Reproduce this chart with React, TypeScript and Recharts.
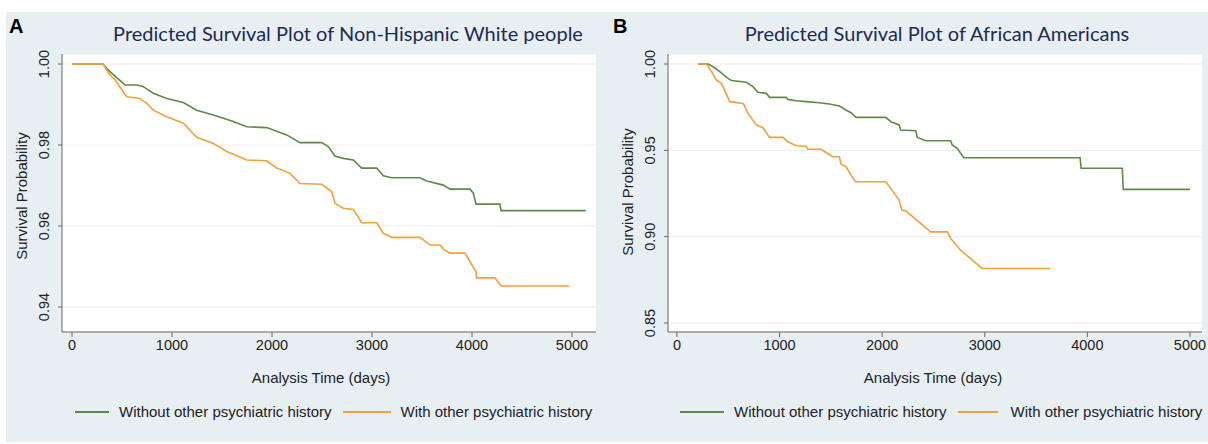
import { LineChart, Line, XAxis, YAxis, CartesianGrid } from 'recharts'

// Non-Hispanic White people (panel A)
const whiteWithoutT = [0, 310, 380, 513, 530, 650, 713, 813, 947, 1113, 1247, 1413, 1613, 1747, 1947, 2147, 2280, 2497, 2563, 2630, 2713, 2813, 2897, 3047, 3113, 3197, 3480, 3547, 3713, 3780, 3980, 4013, 4040, 4280, 4290, 5137]
const whiteWithoutS = [1.0, 1.0, 0.9981, 0.9952, 0.9948, 0.9948, 0.9944, 0.9928, 0.9915, 0.9905, 0.9886, 0.9874, 0.9858, 0.9845, 0.9843, 0.9825, 0.9806, 0.9806, 0.9796, 0.9773, 0.9767, 0.9763, 0.9743, 0.9743, 0.9724, 0.9719, 0.9719, 0.9711, 0.9701, 0.9691, 0.9691, 0.9681, 0.9654, 0.9654, 0.9638, 0.9638]
const whiteWithT = [0, 310, 380, 430, 547, 680, 747, 813, 947, 1113, 1247, 1413, 1547, 1747, 1947, 2047, 2180, 2280, 2497, 2597, 2630, 2713, 2813, 2897, 3047, 3113, 3197, 3480, 3580, 3680, 3713, 3780, 3930, 4040, 4045, 4230, 4290, 4973]
const whiteWithS = [1.0, 1.0, 0.9973, 0.9961, 0.9919, 0.9915, 0.9903, 0.9886, 0.987, 0.9854, 0.9819, 0.9804, 0.9784, 0.9763, 0.9761, 0.9743, 0.973, 0.9705, 0.9703, 0.9685, 0.9656, 0.9644, 0.9641, 0.9608, 0.9608, 0.9582, 0.9572, 0.9572, 0.9553, 0.9553, 0.9543, 0.9533, 0.9533, 0.9487, 0.9472, 0.9472, 0.9452, 0.9452]

// African Americans (panel B)
const blackWithoutT = [207, 304, 353, 417, 498, 531, 676, 741, 789, 871, 903, 1065, 1081, 1162, 1259, 1388, 1485, 1583, 1647, 1696, 1745, 2036, 2085, 2165, 2181, 2327, 2343, 2424, 2667, 2683, 2731, 2796, 3929, 3939, 4340, 4350, 5000]
const blackWithoutS = [1.0, 1.0, 0.9984, 0.9956, 0.9917, 0.9904, 0.9894, 0.9869, 0.9836, 0.983, 0.9807, 0.9807, 0.9795, 0.9787, 0.9782, 0.9776, 0.9768, 0.9757, 0.9734, 0.9718, 0.9691, 0.9691, 0.9666, 0.9647, 0.9618, 0.9614, 0.9575, 0.9556, 0.9556, 0.9531, 0.9512, 0.9457, 0.9457, 0.9396, 0.9396, 0.9274, 0.9274]
const blackWithT = [207, 288, 337, 385, 434, 515, 644, 660, 692, 774, 838, 903, 1032, 1081, 1162, 1259, 1275, 1405, 1518, 1583, 1599, 1647, 1738, 2036, 2165, 2191, 2230, 2473, 2634, 2667, 2764, 2974, 3638]
const blackWithS = [1.0, 1.0, 0.9956, 0.9907, 0.9888, 0.9782, 0.9772, 0.9757, 0.9714, 0.9647, 0.9631, 0.9575, 0.9575, 0.955, 0.9527, 0.9524, 0.9506, 0.9506, 0.9463, 0.9463, 0.9421, 0.9405, 0.9318, 0.9318, 0.9212, 0.9154, 0.915, 0.9028, 0.9028, 0.899, 0.8922, 0.8816, 0.8816]

const xTicks = [0, 1000, 2000, 3000, 4000, 5000]
const whiteYTicks = [0.94, 0.96, 0.98, 1.0]
const blackYTicks = [0.85, 0.9, 0.95, 1.0]

const seriesNames = ['Without other psychiatric history', 'With other psychiatric history']

const GREEN = '#62874a'
const ORANGE = '#f2a03c'
const BG = '#e8eff3'
const FONT = '"Liberation Sans", Arial, Helvetica, sans-serif'

const zip = (t: number[], s: number[]) => t.map((v, i) => ({ t: v, s: s[i] }))

function YTick(props: any) {
  const { x, y, payload } = props
  const cx = x - 12
  return (
    <text
      x={cx}
      y={y}
      transform={`rotate(-90 ${cx} ${y})`}
      textAnchor="middle"
      dominantBaseline="central"
      fontSize={14.5}
      fontFamily={FONT}
      fill="#222"
    >
      {Number(payload.value).toFixed(2)}
    </text>
  )
}

function Panel(props: {
  left: number
  width: number
  yAxisWidth: number
  xDomain: number[]
  yDomain: number[]
  yTicks: number[]
  without: { t: number; s: number }[]
  withH: { t: number; s: number }[]
}) {
  const { left, width, yAxisWidth, xDomain, yDomain, yTicks, without, withH } = props
  return (
    <div style={{ position: 'absolute', left, top: 0 }}>
      <LineChart width={width} height={444} margin={{ top: 54, right: width - yAxisWidth - 534, bottom: 82, left: 0 }}>
        <CartesianGrid fill="#ffffff" stroke="#ececec" vertical={false} />
        <XAxis
          type="number"
          dataKey="t"
          domain={xDomain}
          ticks={xTicks}
          allowDataOverflow
          height={30}
          tickSize={5}
          tickMargin={3}
          stroke="#666"
          tick={{ fontSize: 14.5, fontFamily: FONT, fill: '#222' }}
        />
        <YAxis
          type="number"
          domain={yDomain}
          ticks={yTicks}
          allowDataOverflow
          width={yAxisWidth}
          tickSize={4}
          tickMargin={2}
          stroke="#666"
          tick={<YTick />}
        />
        <Line data={without} dataKey="s" type="linear" stroke={GREEN} strokeWidth={1.6} dot={false} isAnimationActive={false} />
        <Line data={withH} dataKey="s" type="linear" stroke={ORANGE} strokeWidth={1.6} dot={false} isAnimationActive={false} />
      </LineChart>
    </div>
  )
}

const txt = (extra: any) => ({ position: 'absolute' as const, fontFamily: FONT, fontSize: 15, color: '#222', whiteSpace: 'nowrap' as const, ...extra })

const swatch = (w: number, c: string, ml: number, mr: number) => ({
  display: 'inline-block',
  flexShrink: 0,
  width: w,
  height: 2,
  background: c,
  marginLeft: ml,
  marginRight: mr,
})

function LegendRow(p: { x: number; g1: number; m1: number; m2: number; o1: number; m3: number }) {
  return (
    <div style={txt({ left: p.x, top: 403, display: 'flex', alignItems: 'center', width: 560 })}>
      <span style={swatch(p.g1, GREEN, 0, p.m1)} />
      <span>{seriesNames[0]}</span>
      <span style={swatch(p.o1, ORANGE, p.m2, p.m3)} />
      <span>{seriesNames[1]}</span>
    </div>
  )
}

export default function App() {
  return (
    <div style={{ position: 'absolute', left: 0, top: 0, width: 1208, height: 444, background: '#fff', overflow: 'hidden' }}>
      <div style={{ position: 'absolute', left: 6, top: 12, width: 1202, height: 430, background: BG }} />
      <Panel
        left={0}
        width={600}
        yAxisWidth={62}
        xDomain={[-100, 5240]}
        yDomain={[0.93383, 1.00247]}
        yTicks={whiteYTicks}
        without={zip(whiteWithoutT, whiteWithoutS)}
        withH={zip(whiteWithT, whiteWithS)}
      />
      <Panel
        left={600}
        width={608}
        yAxisWidth={68}
        xDomain={[-87, 5117]}
        yDomain={[0.8448, 1.0058]}
        yTicks={blackYTicks}
        without={zip(blackWithoutT, blackWithoutS)}
        withH={zip(blackWithT, blackWithS)}
      />
      <div style={txt({ left: 9, top: 15, fontSize: 20, fontWeight: 'bold', color: '#000' })}>A</div>
      <div style={txt({ left: 613, top: 15, fontSize: 20, fontWeight: 'bold', color: '#000' })}>B</div>
      <div style={txt({ left: 348, top: 33, transform: 'translate(-50%, -50%)', fontFamily: 'Lato, sans-serif', fontSize: 20, color: '#1e2b4f' })}>
        Predicted Survival Plot of Non-Hispanic White people
      </div>
      <div style={txt({ left: 937, top: 33, transform: 'translate(-50%, -50%)', fontFamily: 'Lato, sans-serif', fontSize: 20, color: '#1e2b4f' })}>
        Predicted Survival Plot of African Americans
      </div>
      <div style={txt({ left: 21, top: 196, transform: 'translate(-50%, -50%) rotate(-90deg)' })}>Survival Probability</div>
      <div style={txt({ left: 627, top: 192, transform: 'translate(-50%, -50%) rotate(-90deg)' })}>Survival Probability</div>
      <div style={txt({ left: 321, top: 377, transform: 'translate(-50%, -50%)' })}>Analysis Time (days)</div>
      <div style={txt({ left: 933, top: 377, transform: 'translate(-50%, -50%)' })}>Analysis Time (days)</div>
      <LegendRow x={75} g1={34} m1={10} m2={11} o1={48} m3={10} />
      <LegendRow x={680} g1={44} m1={10} m2={11} o1={40} m3={13} />
    </div>
  )
}
